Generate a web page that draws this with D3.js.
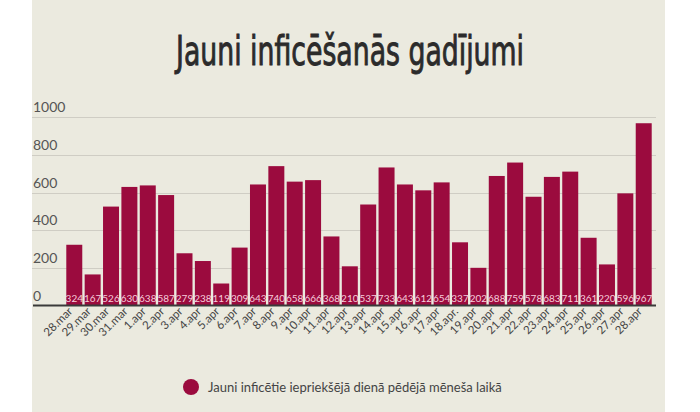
<!DOCTYPE html>
<html><head><meta charset="utf-8">
<script src="https://cdn.jsdelivr.net/npm/d3@7"></script>
<style>body{margin:0;background:#fff;} svg{display:block;}</style>
</head><body>
<script>
const categories = ["28.mar","29.mar","30.mar","31.mar","1.apr","2.apr","3.apr","4.apr","5.apr","6.apr","7.apr","8.apr","9.apr","10.apr","11.apr","12.apr","13.apr","14.apr","15.apr","16.apr","17.apr","18.apr.","19.apr","20.apr","21.apr","22.apr","23.apr","24.apr","25.apr","26.apr","27.apr","28.apr"];
const values = [324,167,526,630,638,587,279,238,119,309,643,740,658,666,368,210,537,733,643,612,654,337,202,688,759,578,683,711,361,220,596,967];
const yTicks = [0,200,400,600,800,1000];
const title = "Jauni inficēšanās gadījumi";
const legendLabel = "Jauni inficētie iepriekšējā dienā pēdējā mēneša laikā";

const W = 700, H = 412;
const svg = d3.select("body").append("svg").attr("width", W).attr("height", H);
svg.append("rect").attr("x",32).attr("y",0).attr("width",633).attr("height",H).attr("fill","#ebeadf");

const x = d3.scaleBand().domain(categories).range([65.1, 652.9]).paddingInner(0.13).paddingOuter(0.065);
const y = d3.scaleLinear().domain([0,1000]).range([306,117]);

// gridlines
svg.append("g").selectAll("line").data(yTicks.slice(1)).join("line")
  .attr("x1",32).attr("x2",656).attr("y1",d=>Math.round(y(d))+0.5).attr("y2",d=>Math.round(y(d))+0.5)
  .attr("stroke","#cfcdc4").attr("stroke-width",1);
// y labels
svg.append("g").selectAll("text").data(yTicks).join("text")
  .attr("x",33).attr("y",d=>y(d)-5).text(d=>d)
  .attr("font-family","Lato, 'Open Sans', sans-serif").attr("font-size",14).attr("fill","#555");

// bars
svg.append("g").selectAll("rect").data(values).join("rect")
  .attr("x",(d,i)=>x(categories[i])).attr("width",x.bandwidth())
  .attr("y",d=>y(d)).attr("height",d=>y(0)-y(d)).attr("fill","#9b0b3e");
// value labels
svg.append("g").selectAll("text").data(values).join("text")
  .attr("x",(d,i)=>x(categories[i])+x.bandwidth()/2).attr("y",302)
  .attr("text-anchor","middle").text(d=>d)
  .attr("font-family","Lato, sans-serif").attr("font-size",10).attr("fill","#f6cddb");

// baseline
svg.append("line").attr("x1",33).attr("x2",656).attr("y1",305.5).attr("y2",305.5).attr("stroke","#3a3a3a").attr("stroke-width",2);

// x labels
svg.append("g").selectAll("text").data(categories).join("text")
  .attr("transform",d=>`translate(${x(d)+x.bandwidth()/2-1},312) rotate(-45)`)
  .attr("text-anchor","end").text(d=>d)
  .attr("font-family","Lato, sans-serif").attr("font-size",11.5).attr("fill","#444");

// title
svg.append("text").attr("x",350).attr("y",65).attr("text-anchor","middle")
  .attr("textLength",348).attr("lengthAdjust","spacingAndGlyphs")
  .attr("font-family","'Liberation Sans Narrow', 'DejaVu Sans Condensed', sans-serif").attr("font-size",40)
  .attr("stroke","#2b2b2b").attr("stroke-width",0.9)
  .attr("fill","#2b2b2b").text(title);

// legend
svg.append("circle").attr("cx",191).attr("cy",387).attr("r",8).attr("fill","#9b0b3e");
svg.append("text").attr("x",208).attr("y",391.5).text(legendLabel)
  .attr("font-family","Lato, sans-serif").attr("font-size",13).attr("fill","#444");
</script>
</body></html>
